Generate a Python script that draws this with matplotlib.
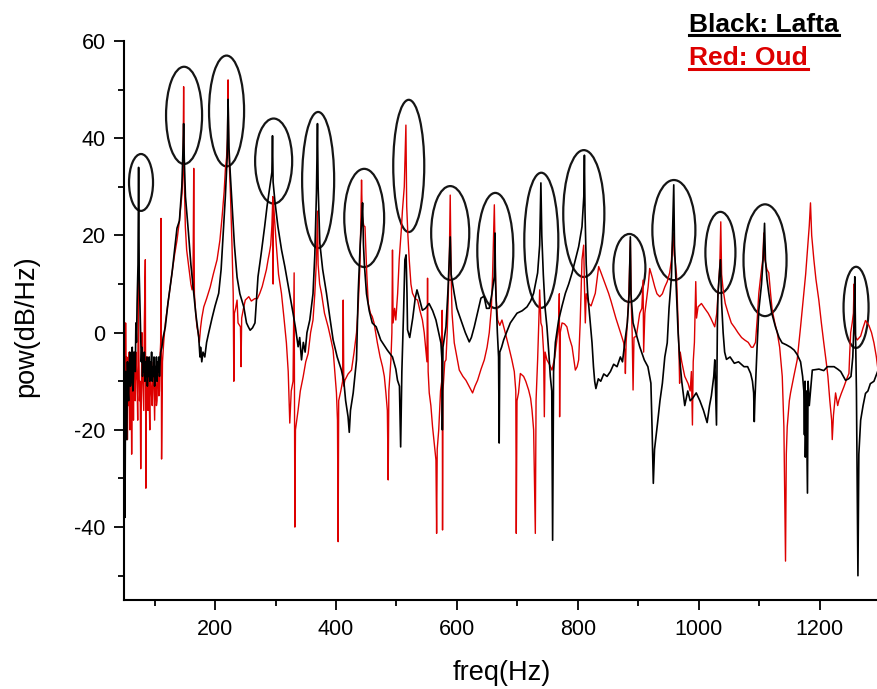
import numpy as np
import matplotlib
matplotlib.use('agg')
import matplotlib.pyplot as plt
from matplotlib.patches import Ellipse
from matplotlib.lines import Line2D
import matplotlib.ticker as ticker

plt.rcParams['font.family'] = ['Liberation Sans', 'DejaVu Sans']
plt.rcParams['axes.unicode_minus'] = False

# (freq Hz, power dB/Hz)
lafta = [
    (50, -5), (51, -38), (52, -8), (53, -15), (54, -22), (55, -6), (56, -12), (57, -14),
    (58, -7), (59, -4), (60, -11), (61, -10), (62, -5), (63, -3), (64, -12), (65, -9),
    (66, -4), (67, -5), (68, -8), (69, 2), (70, -2), (71, 6), (72.5, 14), (73.5, 34),
    (74.5, 12), (76, 4), (77, -2), (78, -6), (79, -3), (80, -9), (81, -5), (82, -8),
    (83, -4), (84, -10), (85, -6), (86, -9), (87, -5), (88, -11), (89, -7), (90, -9),
    (91, -5), (92, -10), (93, -6), (94, -8), (95, -4), (96, -10), (97, -7), (98, -9),
    (99, -5), (100, -11), (101, -7), (102, -9), (103, -5), (104, -10), (105, -6),
    (106, -8), (107, -5), (108, -9), (109, -6), (110, -4), (112, -3), (114, -1),
    (117.7, 1.2), (122, 6), (128.8, 12.3),
    (133, 17), (137, 21.5), (141, 23), (145, 30), (147, 38), (148, 43), (149, 36),
    (151, 28), (156, 20.5), (160, 14), (164.7, 8), (168, 4), (171, 1), (173, -1),
    (175, -5), (176, -3), (178, -6), (180, -4), (183, -5), (186, -2), (189.5, 0),
    (195, 3), (200, 5.5), (206, 8.1), (210, 13), (214, 21.8), (217, 28), (220, 36),
    (221.5, 48), (223, 38), (225, 33), (228, 26.7), (232, 18), (236.4, 11.4), (241, 8),
    (247.5, 5.3), (252, 2), (255, 1.2), (258, 0.5), (262, 1), (266, 2), (271, 11.5),
    (276, 16), (282, 21.8), (286, 26), (290.5, 30), (294, 33), (295, 40.5), (296, 31),
    (299, 27), (304, 21.8), (310, 17), (315.4, 13.6), (322, 9), (329, 4), (333, 1),
    (337.4, -2.9), (340, -1), (343, -5.6), (346, -2), (349, -4), (352, 0), (356.7, 2.6),
    (362, 8), (365, 16), (367.7, 28.7), (369.4, 43), (370.5, 30), (373.3, 18.4),
    (378, 13), (384.3, 8.1), (390, 3), (395.3, -1.5), (402, -5), (409, -7.7), (413, -10),
    (416, -14), (420, -17.3), (422, -20.5), (424, -16), (428.5, -12.4), (432, -8),
    (434, -5.6), (436.7, 8), (440, 18), (443, 24), (444, 26.7), (445.5, 18), (447, 14),
    (450.5, 8), (455, 4.5), (460, 2), (466.5, 1.2), (474, -1.5), (485, -3.6), (493.5, -5),
    (499, -7.5), (501.8, -9.8), (505, -11), (507, -23.5), (509, -8), (512, 5), (514, 15),
    (516, 16), (517.5, 8), (518.4, 0.6), (522, -1), (527, 3), (531, 7), (534, 8.8),
    (538, 7), (543, 4.6), (548, 5), (554, 6), (560, 4.5), (565.4, 2.6), (570, 0),
    (573.6, -2.1), (575.5, -6), (576, -20), (577, -3), (582, 1.2), (585, 8), (587.4, 15),
    (589, 19.7), (590.5, 12), (595.7, 8), (600, 5), (606.8, 2.6), (614, 0), (620.5, -1.9),
    (624, -1), (628.8, 1.2), (634, 4), (639.8, 7.1), (645, 7.5), (649, 5), (653.6, 5),
    (658, 8), (661.9, 11.5), (663, 20.5), (664, 10), (667, 0), (669, -5), (670, -22.7),
    (671, -4), (674, -3), (677.4, -1.5), (682, 0), (688.4, 2), (694, 3), (699.5, 4),
    (708, 4.5), (716, 5.3), (722, 6.5), (727, 8.1), (733.6, 12.3), (737, 18), (739, 30.8),
    (740.5, 20), (743, 12), (746, 5), (749, 1.2), (752, -4), (754.6, -9), (757, -12),
    (758.4, -42.7), (760, -8), (763, -2), (768.4, 2.6), (774, 5.5), (779.5, 8.1),
    (785, 10), (790.6, 12.3), (796, 15), (801.5, 17.7), (807, 21.8), (810, 28),
    (811, 36.5), (812, 25), (814, 14), (816.4, 8.1), (820, 3), (823.6, -2.1), (826, -7),
    (828, -10), (830, -11.5), (834, -9.5), (838, -10), (843, -8.5), (848.5, -9),
    (854, -8), (859.4, -6.5), (865, -7), (870.5, -5), (874, -6), (878.8, -1), (882, 2),
    (885, 8), (887, 19.7), (888, 8), (891.5, 2), (896, 0), (902.5, -2.9), (910, -5.6),
    (916, -7), (921, -10.4), (923, -20), (925, -31), (927, -24), (932, -18.6),
    (936, -14), (940, -10.4), (944, -5), (948, -2.1), (951, 5), (955, 11.5),
    (958.8, 30.4), (960, 18), (963.3, 8.1), (966, 0), (968.8, -5.6), (972, -10),
    (977, -15), (982, -12), (986, -14), (990, -13.5), (996, -12.4), (1002, -14),
    (1008, -16), (1014, -18.5), (1018, -15), (1021, -13), (1025, -9), (1026.7, -5.6),
    (1029.5, -19), (1031, 2), (1032, 8.1), (1036, 15), (1038, 6), (1040.5, 0),
    (1043, -4), (1046, -5.5), (1052, -5), (1059, -6.3), (1066, -6), (1075, -7),
    (1081, -7), (1086, -8.4), (1089, -10), (1091, -12.4), (1092, -18.3), (1093, -14),
    (1095, -8), (1097, -2), (1099.5, 4.6), (1104, 10), (1107, 16), (1109, 22.5),
    (1110.5, 15), (1113, 11), (1116, 8.1), (1121, 4), (1127, 1.2), (1133, -1),
    (1138, -2.1), (1145, -2.5), (1152, -3), (1158, -3.6), (1163, -4.5), (1168.6, -6),
    (1172, -9), (1174, -12), (1175, -21), (1176, -10), (1176.5, -25.6), (1178, -12),
    (1180, -33), (1181, -10), (1183, -15), (1188, -7.7), (1199, -7.5), (1207, -7.8),
    (1213, -7), (1224, -7), (1230, -7.5), (1235, -8), (1243, -9.8), (1248, -9.5),
    (1252, -9), (1255, -5), (1257, 2), (1258.3, 11.5), (1259.5, 0), (1261, -12),
    (1263.5, -50), (1265, -25), (1268, -18), (1272, -15), (1276, -12.5), (1280, -12),
    (1284, -10.5), (1290, -10), (1296, -8),
]

oud = [
    (50, -2), (51, -20), (52, 2), (53, -12), (54, -5), (55, -22), (56, -8), (57, -15),
    (58, -4), (59, -20), (60, -12), (61, -6), (62, -25), (63, -10), (64, -4), (65, -18),
    (66, -6), (67, -12), (68, -14), (69, -4), (70, -8), (71, -10), (72, -18), (73, 12),
    (74, -5), (75, -14), (76, -10), (77, -28), (78, -14), (79, 0), (80, -8), (81, -12),
    (82, -16), (83, 2), (84.6, 15), (85.5, -32), (86, -8), (87, -12), (88, -5), (89, -16),
    (90, -8), (91, -13), (92, -20), (93, -7), (94, -10), (95, -13), (96, -15), (97, -9),
    (98, -6), (99, -12), (100, -18), (101, -8), (102, -10), (103, -15), (104, -14),
    (105, -7), (106, -8), (107, -13), (108, -12), (109, -5), (110, -2), (110.5, 23.5),
    (111.5, -26), (113, -6), (115, -2), (117.7, 2), (122, 6), (128.8, 12.3), (133, 16),
    (137, 19), (141, 23), (145.4, 28.7), (147, 33.5), (148, 50.6), (149, 32), (150.8, 21.8),
    (153, 17), (156.4, 13.6), (160, 10), (162, 8.8), (163.5, 10), (164.7, 33.8),
    (165.8, 8), (168, 4), (170, 1.2), (172, 0), (174, -2), (176, 1), (178, 3),
    (181.3, 5.3), (186, 7), (192, 9.4), (197, 12), (203.3, 15), (208, 19), (211.6, 23.8),
    (215, 29), (217, 33.5), (219, 36), (220.5, 40), (221.5, 52), (222.5, 38),
    (225.4, 28.7), (228, 18), (230, 8), (231, -10), (232, 4), (234, 5), (236.4, 6.7),
    (238, 2), (242, 1.2), (243, -7), (244, 3), (247, 5), (250, 6.7), (255.8, 7.4),
    (260, 6.5), (265.7, 7), (270, 7), (274, 8.1), (278, 9.5), (282, 11.5), (285, 13),
    (287.7, 15), (290, 16.5), (292, 18), (294, 22), (295.5, 28), (296, 10), (296.5, 27),
    (298, 24), (301.5, 17.7), (305, 12), (309.8, 8.1), (314, 3), (318, -2.1), (321, -8),
    (323.6, -18.6), (326, -12), (329, -10), (330.8, 12.3), (331.5, -15), (332, -40),
    (333, -20), (337.4, -15.9), (341, -12), (345.7, -9.1), (350, -6), (354, -4.3),
    (358, 0), (362, 2.6), (365, 8), (367.7, 15), (369.4, 25), (370.5, 14), (373, 10),
    (376, 8.1), (381, 4), (387, 1.2), (391, -1), (395.3, -3.6), (398, -8), (400.8, -12.4),
    (402.5, -18), (403.6, -43), (404.5, -14), (408, -12), (411, -10), (412, 6.7),
    (413, -11), (414.7, -9.8), (420, -8.5), (425.7, -7.7), (430, -4), (434, 0), (437, 6),
    (439.6, 13.6), (441, 22), (442.3, 31.4), (443.5, 24), (446, 22), (448, 21.8),
    (451, 12), (453.4, 6), (457, 4), (460, 3.3), (463, 2), (468.5, -2.1), (473, -5),
    (477, -7), (480, -9), (482.6, -12.4), (485, -16), (486.4, -30.3), (487.5, -12),
    (490.9, -5.6), (492.5, 0), (493.5, 17), (494.5, 2), (497, 5), (499, 2.6), (502, 8),
    (504.6, 15), (508, 21), (510, 25.2), (513, 30), (515.7, 42.7), (517, 26), (519, 20),
    (521.2, 15), (524, 10), (526.6, 8.1), (531, 7), (535, 6.7), (539, 4.5), (543, 2.6),
    (546, 0), (548.8, -3.6), (550.5, -6), (551.5, 11.2), (552.5, -8), (554.3, -12.4),
    (557, -15), (559.8, -19.4), (562, -22), (565.4, -26.2), (566.5, -41.3), (567.5, -24),
    (570, -20), (573, -12), (575, -10), (575.7, 4.6), (576.3, -40.6), (577, -12),
    (580, -6), (582, -5.6), (584, 0), (585.8, 8), (587.5, 15), (589, 28.3), (590.5, 12),
    (592, 4), (595.7, -2.1), (600, -5), (604, -7.7), (610, -9), (615, -9.8), (620, -11),
    (626, -12.4), (630, -11), (634.3, -9.8), (640, -7.5), (645.4, -5.6), (650, -3),
    (653.6, 0), (657, 5), (659, 11.5), (662, 26.3), (663.5, 14), (665, 7), (667.5, 2.6),
    (671, 1.5), (674.6, 2.6), (679, 0.5), (683, -1.5), (687, -3.5), (691, -5.6),
    (695, -8), (697.5, -12), (698.3, -41.3), (699.5, -14), (702, -12.4), (705, -8.4),
    (710.4, -9), (714, -10), (718.7, -11.8), (722, -13.5), (724.3, -15.9), (727, -20),
    (729.8, -41.3), (731, -14), (733.6, -5.6), (735.5, 2), (737, 8.8), (739, 2),
    (741, 1.2), (743.5, -4), (744.7, -17.3), (746, -4), (749, -5.6), (753, -6.5),
    (757.4, -7.7), (762, -5), (766, -1), (768.4, 1.2), (769.5, 8), (770, -17.3),
    (771, 0), (774, 2), (778, 1.8), (782, 1.2), (786, -1), (790.6, -2.9), (793, -5),
    (796, -7.7), (799, -7), (801.5, -5.6), (804, 2), (807, 15), (809.8, 18), (811, 10),
    (812.5, 2), (814, 8), (818, 6), (822, 5.5), (826, 7), (829, 8.1), (832, 11),
    (834.6, 13.6), (838, 12.5), (843, 10.8), (847, 9.5), (851, 8.1), (855, 6.5),
    (859.4, 4.6), (863, 3), (867.7, 1.2), (872, -0.5), (876, -2.1), (878, -4),
    (878.8, -8.4), (880, -2), (882, 2), (884.5, 8), (887, 19), (888.5, 6), (890, 0),
    (891.5, -11.8), (893, -1), (897, -0.7), (902.5, 4), (906, 5), (908, 10.8), (909, -4),
    (911, 4), (914, 7), (916.4, 9.4), (919, 13.2), (923, 11.5), (927.4, 9.4), (931, 8),
    (935.6, 7.4), (940, 8), (944, 9.4), (948, 10.5), (952, 12.3), (955, 15),
    (957.8, 20.5), (959.5, 16), (961, 15), (963.3, 12), (966, 2), (967.7, -5.6),
    (968.5, -10.4), (969.5, -4), (972, -6), (977, -9), (982.6, -10.5), (986, -12),
    (988, -8), (989.7, -19), (991, -6), (993, -2), (995.2, 10.5), (996.5, 3), (999, 5.3),
    (1004.6, 6), (1010, 5), (1015.7, 4), (1020, 3), (1026.6, 1.2), (1030, 4), (1033, 10),
    (1035, 14), (1036.6, 22.8), (1038, 12), (1040.5, 8.8), (1044, 6), (1048.8, 4),
    (1054, 2), (1059.8, 1), (1065, 0), (1071, -1), (1076, -1.5), (1082, -2), (1087, -3),
    (1090, -3), (1094, -2), (1097, 3), (1099.5, 8.1), (1103, 12), (1106, 15),
    (1107.8, 20.5), (1109.5, 15), (1113, 13), (1116, 12.3), (1119, 8), (1121.7, 4.6),
    (1126, 2), (1130, 0), (1134, -3), (1138.3, -9), (1141, -19.4), (1143.7, -47),
    (1145, -25), (1146.5, -19.4), (1150, -14), (1152, -12.4), (1157.4, -9), (1163, -5.6),
    (1168.6, 1.2), (1174, 8.1), (1177, 12), (1179.6, 16.4), (1183, 22), (1185, 26.7),
    (1187, 20), (1190.6, 15), (1194, 11), (1198.8, 6.7), (1203, 2), (1207, -2.1),
    (1211, -6), (1213.8, -9), (1217, -14), (1220, -18), (1221, -22), (1223, -17),
    (1226.5, -12.4), (1230, -15), (1232, -13.9), (1236, -12.5), (1240.4, -11.1),
    (1245, -9.5), (1248.6, -8.4), (1250, -4), (1251.5, 0), (1254, 2), (1256, 4),
    (1257, 10), (1258, 0), (1260, -1), (1262.4, -1.5), (1268, -0.7), (1272, 1),
    (1276, 2.5), (1281.6, 1.5), (1286, 0), (1290, -2.1), (1294, -5), (1296, -7),
]

# circled peaks: centre freq, centre dB, width (Hz), height (dB)
ring_freq = [77.5, 148.7, 219, 296.9, 370.5, 446.7, 520.4, 589, 663.6, 739.7,
             810, 885.4, 959, 1036, 1109.8, 1260.4]
ring_db = [30.9, 44.7, 45.6, 35.3, 31.4, 23.6, 34.3, 20.5, 16.9, 19,
           24.5, 13.3, 21.1, 16.5, 14.9, 5.2]
ring_w = [39.7, 59.6, 58, 61.3, 53, 66, 51.3, 63, 59.6, 56.3,
          68, 53, 71.2, 49.7, 71.2, 41.4]
ring_h = [11.7, 20, 22.8, 17.5, 28, 20.2, 27.2, 19.3, 23.7, 27.8,
          26.1, 14, 20.6, 16.7, 23, 16.7]

RED = '#dd0000'

fig = plt.figure(figsize=(8.77, 6.89), dpi=100)
W, H = 877, 689
ax = fig.add_axes([124.4 / W, 1 - 600 / H, (880 - 124.4) / W, (600 - 41) / H])

of, od = np.array(oud).T
lf, ld = np.array(lafta).T
ax.plot(of, od, color=RED, lw=1.0)
ax.plot(lf, ld, color='black', lw=1.2)

for f, d, w, h in zip(ring_freq, ring_db, ring_w, ring_h):
    ax.add_patch(Ellipse((f, d), w, h, fill=False, edgecolor='#151515', lw=1.6))

ax.set_xlim(50, 1300)
ax.set_ylim(-55, 60)
ax.spines['top'].set_visible(False)
ax.spines['right'].set_visible(False)
for s in ['left', 'bottom']:
    ax.spines[s].set_linewidth(1.5)

ax.xaxis.set_major_locator(ticker.MultipleLocator(200))
ax.xaxis.set_minor_locator(ticker.MultipleLocator(100))
ax.yaxis.set_major_locator(ticker.MultipleLocator(20))
ax.yaxis.set_minor_locator(ticker.MultipleLocator(10))
ax.tick_params(which='major', length=7.5, width=1.3, labelsize=15.5, pad=6)
ax.tick_params(which='minor', length=4.5, width=1.3)

ax.set_xlabel('freq(Hz)', fontsize=19.5)
ax.set_ylabel('pow(dB/Hz)', fontsize=19.5)
ax.xaxis.set_label_coords(0.5, -0.108)
ax.yaxis.set_label_coords(-0.113, 0.49)

# underlined key in the top right corner
renderer = fig.canvas.get_renderer()
for label, col, base in [('Black: Lafta', 'black', 31.5), ('Red: Oud', RED, 65)]:
    t = fig.text(689 / W, 1 - base / H, label, color=col, fontsize=19,
                 fontweight='bold', ha='left', va='baseline')
    bb = t.get_window_extent(renderer)
    yl = 1 - (base + 3.5) / H
    fig.add_artist(Line2D([bb.x0 / W, bb.x1 / W], [yl, yl], color=col, lw=2.2,
                          transform=fig.transFigure))

fig.savefig('out.png', dpi=100)
